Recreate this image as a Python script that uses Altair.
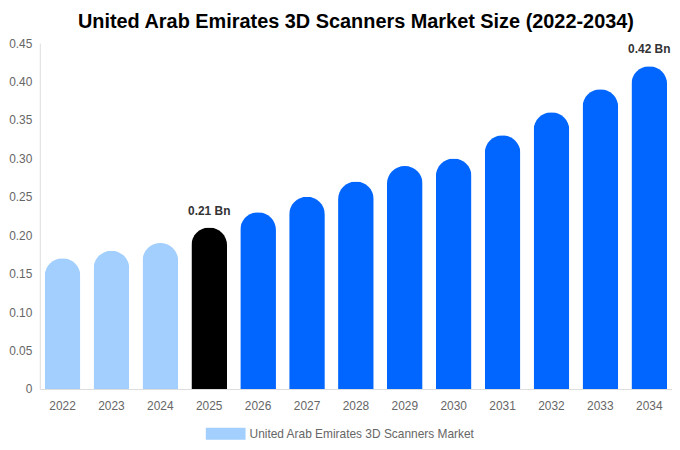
import altair as alt
import pandas as pd

years = ["2022", "2023", "2024", "2025", "2026", "2027", "2028", "2029", "2030", "2031", "2032", "2033", "2034"]
values = [0.17, 0.18, 0.19, 0.21, 0.23, 0.25, 0.27, 0.29, 0.30, 0.33, 0.36, 0.39, 0.42]
fills = ["#A3CFFF", "#A3CFFF", "#A3CFFF", "#000000", "#0066FF", "#0066FF", "#0066FF",
         "#0066FF", "#0066FF", "#0066FF", "#0066FF", "#0066FF", "#0066FF"]
labels = ["", "", "", "0.21 Bn", "", "", "", "", "", "", "", "", "0.42 Bn"]
y_ticks = [0, 0.05, 0.1, 0.15, 0.2, 0.25, 0.3, 0.35, 0.4, 0.45]
series_name = "United Arab Emirates 3D Scanners Market"

df = pd.DataFrame({"year": years, "value": values, "fill": fills, "label": labels,
                   "series": [series_name] * len(years)})

x_enc = alt.X("year:N", sort=years,
              scale=alt.Scale(paddingInner=0.27, paddingOuter=0.1),
              axis=alt.Axis(title=None, labelAngle=0, ticks=False, labelPadding=12,
                            labelColor="#666666", labelFontSize=12, labelFont="Liberation Sans",
                            domainColor="#dddddd"))
y_enc = alt.Y("value:Q",
              scale=alt.Scale(domain=[0, 0.45], nice=False),
              axis=alt.Axis(title=None, values=y_ticks,
                            labelExpr="datum.value == 0 ? '0' : format(datum.value, '.2f')",
                            labelOverlap=False,
                            ticks=False, grid=False, labelPadding=8, labelColor="#666666",
                            labelFontSize=12, labelFont="Liberation Sans", domainColor="#dddddd"))

bars = alt.Chart(df).mark_bar(cornerRadiusTopLeft=18, cornerRadiusTopRight=18).encode(
    x=x_enc, y=y_enc, fill=alt.Fill("fill:N", scale=None)
)

legend_layer = alt.Chart(df).mark_point(opacity=0, filled=True).encode(
    x=x_enc,
    y=y_enc,
    color=alt.Color("series:N",
                    scale=alt.Scale(domain=[series_name], range=["#A3CFFF"]),
                    legend=alt.Legend(title=None, orient="none", legendX=167, legendY=373,
                                      direction="horizontal",
                                      symbolType="M-1,-0.3H1V0.3H-1Z", symbolSize=1600,
                                      symbolOpacity=1, symbolStrokeWidth=0, labelLimit=0,
                                      labelFontSize=12, labelColor="#666666",
                                      labelFont="Liberation Sans"))
)

text = alt.Chart(df).mark_text(dy=-17, fontSize=12, fontWeight="bold", color="#333333",
                               font="Liberation Sans").encode(
    x=x_enc, y=y_enc, text="label:N"
)

chart = alt.layer(bars, legend_layer, text).properties(
    width=636, height=348,
    title=alt.TitleParams("United Arab Emirates 3D Scanners Market Size (2022-2034)",
                          fontSize=20, fontWeight="bold", font="Liberation Sans",
                          color="#000000", anchor="middle", offset=5),
    padding={"left": 0, "top": 3, "right": 0, "bottom": 0}
).configure_view(stroke=None)

chart.save("out.html", embed_options={"renderer": "svg", "actions": False})
